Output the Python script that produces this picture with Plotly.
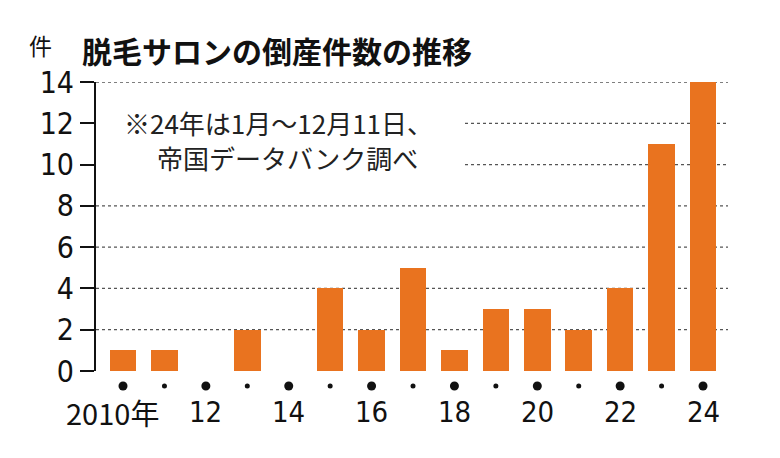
import plotly.graph_objects as go

years = list(range(2010, 2025))
counts = [1, 1, 0, 2, 0, 4, 2, 5, 1, 3, 3, 2, 4, 11, 14]
label_years = [2010, 2012, 2014, 2016, 2018, 2020, 2022, 2024]
label_texts = ["2010年", "12", "14", "16", "18", "20", "22", "24"]
y_ticks = [0, 2, 4, 6, 8, 10, 12, 14]

title = "脱毛サロンの倒産件数の推移"
unit = "件"
note1 = "※24年は1月～12月11日、"
note2 = "帝国データバンク調べ"

W, H = 780, 458
L, R, T, B = 96, 728, 82, 371  # plot area pixels


def px(x):
    return (x - L) / (R - L)


def py(y):
    return (B - y) / (B - T)


BAR = "#E9731F"
FONT_NUM = "DejaVu Sans Condensed"
FONT_JP = "Noto Sans CJK JP"

fig = go.Figure()
fig.add_trace(go.Bar(x=years, y=counts, width=0.64, marker_color=BAR,
                     marker_line_width=0, hoverinfo="skip"))

shapes = []
for v in [2, 4, 6, 8, 14]:
    shapes.append(dict(type="line", xref="paper", yref="y", x0=0, x1=1, y0=v, y1=v,
                       line=dict(color="#555", width=1.3, dash="dot"), layer="below"))
for v in [10, 12]:
    shapes.append(dict(type="line", xref="paper", yref="y", x0=px(465), x1=1, y0=v, y1=v,
                       line=dict(color="#555", width=1.3, dash="dot"), layer="below"))

# tick dots below the axis: large for even years, small for odd years
for yr in years:
    r = 4.5 if yr % 2 == 0 else 2.5
    shapes.append(dict(type="circle", xref="x", yref="paper",
                       xsizemode="pixel", ysizemode="pixel",
                       xanchor=yr, yanchor=py(386),
                       x0=-r, x1=r, y0=-r, y1=r,
                       fillcolor="#111", line=dict(width=0)))

annotations = [
    dict(text="<b>" + title + "</b>", x=px(277), y=py(50), xref="paper", yref="paper",
         showarrow=False, font=dict(family=FONT_JP, size=30, color="#111"),
         xanchor="center", yanchor="middle"),
    dict(text=unit, x=px(40), y=py(45), xref="paper", yref="paper",
         showarrow=False, font=dict(family=FONT_JP, size=23, color="#111"),
         xanchor="center", yanchor="middle"),
    dict(text=note1, x=px(278), y=py(122), xref="paper", yref="paper",
         showarrow=False, font=dict(family=FONT_JP, size=26, color="#222"),
         xanchor="center", yanchor="middle"),
    dict(text=note2, x=px(287), y=py(157), xref="paper", yref="paper",
         showarrow=False, font=dict(family=FONT_JP, size=26, color="#222"),
         xanchor="center", yanchor="middle"),
]
for yr, t in zip(label_years, label_texts):
    annotations.append(dict(text=t, x=yr, y=py(412), xref="x", yref="paper",
                            showarrow=False,
                            font=dict(family=FONT_NUM if t != "2010年" else FONT_JP + ", " + FONT_NUM,
                                      size=29, color="#111"),
                            xanchor="center", yanchor="middle",
                            xshift=-11 if t == "2010年" else 0))

fig.update_layout(
    width=W, height=H,
    margin=dict(l=L, r=W - R, t=T, b=H - B, pad=0),
    paper_bgcolor="white", plot_bgcolor="white",
    showlegend=False,
    shapes=shapes,
    annotations=annotations,
    xaxis=dict(range=[2009.348, 2024.603], showticklabels=False, ticks="",
               showgrid=False, zeroline=False, showline=False, fixedrange=True),
    yaxis=dict(range=[0, 14], tickvals=y_ticks, ticks="outside", ticklen=14,
               tickwidth=2, tickcolor="#111", showline=True, linewidth=2,
               linecolor="#111", showgrid=False, zeroline=False,
               tickfont=dict(family=FONT_NUM, size=30, color="#111"),
               fixedrange=True),
    bargap=0,
)

fig.write_html("out.html", config={"displayModeBar": False})
